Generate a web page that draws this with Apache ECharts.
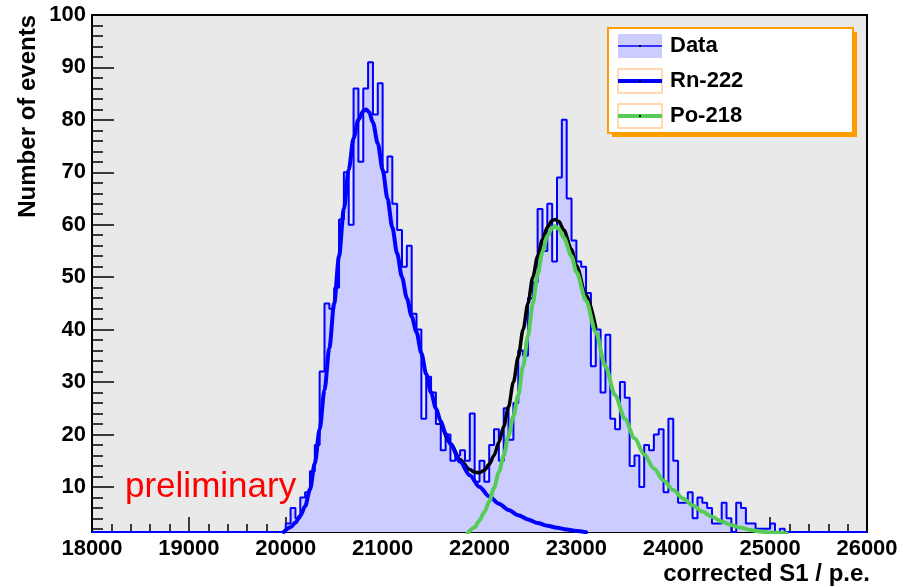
<!DOCTYPE html>
<html><head><meta charset="utf-8">
<script src="https://cdn.jsdelivr.net/npm/echarts@6/dist/echarts.min.js"></script>
<style>html,body{margin:0;padding:0;background:#fff}#c{width:916px;height:587px}</style>
</head><body><div id="c"></div>
<script>
// ---- data ----
const xRange = [18000, 26000];
const xTickStep = 1000;
const yTicksMajor = [10, 20, 30, 40, 50, 60, 70, 80, 90, 100];
const yTicksMinor = [2, 4, 6, 8, 12, 14, 16, 18, 22, 24, 26, 28, 32, 34, 36, 38, 42, 44, 46, 48, 52, 54, 56, 58, 62, 64, 66, 68, 72, 74, 76, 78, 82, 84, 86, 88, 92, 94, 96, 98];
const yRange = [1.4, 100];
const binWidth = 50;
const firstBin = 20000;
// counts per 50 p.e. bin starting at 20000
const counts = [
  3, 6, 4, 8, 9, 13, 18, 32, 45, 44,
  48, 61, 70, 60, 86, 72, 86, 91, 81, 87,
  70, 73, 64, 59, 52, 56, 43, 40, 23, 31,
  28, 22, 17, 20, 15, 16, 17, 15, 24, 11,
  15, 11, 18, 21, 15, 25, 19, 26, 36, 35,
  46, 49, 63, 55, 64, 53, 69, 80, 65, 57,
  53, 52, 47, 33, 40, 28, 39, 23, 21, 30,
  27, 14, 16, 10, 18, 17, 20, 21, 9, 23,
  15, 7, 7, 9, 4, 8, 7, 6, 3, 3,
  7, 4, 1, 7, 6, 3, 3, 2, 2, 2,
  3, 0, 2, 0
];
// fitted curves as [S1, events]
const rnFit = [
  [19980, 1.4], [20050, 2.3], [20100, 3.2], [20150, 4.5], [20200, 6.3], [20250, 9.5],
  [20300, 14.5], [20350, 21], [20400, 28.5], [20450, 36.5], [20500, 45], [20550, 54],
  [20600, 63], [20650, 70.5], [20700, 76.5], [20750, 80], [20800, 81.7], [20830, 82],
  [20860, 81.5], [20900, 79.5], [20950, 75.5], [21000, 70.5], [21050, 65], [21100, 59.5],
  [21150, 54.5], [21200, 50], [21250, 46], [21300, 42.5], [21350, 39.5], [21400, 35.5],
  [21450, 31.5], [21500, 28], [21550, 25], [21600, 22.5], [21650, 20.2], [21700, 18.2],
  [21800, 14.8], [21900, 12.2], [22000, 10], [22100, 8.2], [22200, 6.8], [22300, 5.6],
  [22400, 4.6], [22500, 3.8], [22600, 3.1], [22700, 2.6], [22800, 2.2], [22900, 1.9],
  [23000, 1.6], [23100, 1.35]
];
const poFit = [
  [21880, 1.2], [21950, 2.3], [22000, 3.6], [22050, 5.2], [22100, 7.2], [22150, 9.8],
  [22200, 12.8], [22250, 16], [22300, 19.8], [22350, 23.5], [22400, 27.5], [22450, 33],
  [22500, 38.8], [22550, 45], [22600, 50.5], [22650, 54.8], [22700, 57.8], [22750, 59.4],
  [22780, 59.7], [22820, 59.2], [22870, 57.5], [22950, 54], [23000, 51], [23100, 45.5],
  [23200, 39.5], [23300, 33], [23400, 27.5], [23500, 23], [23600, 19.3], [23700, 16.2],
  [23800, 13.5], [23900, 11.2], [24000, 9.4], [24100, 7.8], [24200, 6.5], [24300, 5.3],
  [24400, 4.3], [24500, 3.4], [24600, 2.7], [24700, 2.2], [24800, 1.8], [24900, 1.5],
  [25000, 1.3], [25170, 1.1]
];
const sumFit = [
  [21600, 22.5], [21700, 18.3], [21800, 15.2], [21900, 13.3], [21950, 12.8], [22000, 12.7],
  [22050, 13.2], [22100, 14.3], [22150, 16], [22200, 18.5], [22250, 21.5], [22300, 25.3],
  [22350, 30], [22400, 34.8], [22450, 40], [22500, 45], [22550, 50], [22600, 54],
  [22650, 57.2], [22700, 59.5], [22750, 60.8], [22780, 61], [22820, 60.6], [22870, 59],
  [22950, 55.3], [23000, 52.2], [23100, 46.6], [23200, 40.4]
];
const legendNames = ['Data', 'Rn-222', 'Po-218'];

// ---- build histogram step outline from counts ----
function histPoints() {
  const pts = [];
  const n = Math.round((xRange[1] - xRange[0]) / binWidth);
  for (let k = 0; k < n; k++) {
    const lo = xRange[0] + k * binWidth;
    const idx = Math.round((lo - firstBin) / binWidth);
    const c = (idx >= 0 && idx < counts.length) ? counts[idx] : 0;
    const v = Math.max(c, yRange[0]);
    pts.push([lo, v], [lo + binWidth, v]);
  }
  return pts;
}

const FONT = '"Liberation Sans", Arial, sans-serif';
const chart = echarts.init(document.getElementById('c'), null, {renderer: 'canvas'});
const lx = 618, lw = 44;
const legendRows = [46, 81, 116];
const fitLine = (name, data, color, width, z) => ({
  name, type: 'line', data, smooth: 0.3, smoothMonotone: 'x', symbol: 'none', showSymbol: false,
  lineStyle: {color, width, cap: 'round', join: 'round'}, z
});

chart.setOption({
  animation: false,
  backgroundColor: '#ffffff',
  grid: {left: 92, right: 49, top: 15, bottom: 55, show: true, backgroundColor: '#e9e9e9', borderColor: '#000', borderWidth: 2},
  xAxis: {
    type: 'value', min: xRange[0], max: xRange[1], interval: xTickStep,
    axisLine: {show: true, onZero: false, lineStyle: {color: '#000', width: 2}},
    axisTick: {show: true, inside: true, length: 15, lineStyle: {color: '#000', width: 1.5}},
    minorTick: {show: true, splitNumber: 5, length: 8, lineStyle: {color: '#000', width: 1.5}},
    splitLine: {show: false},
    axisLabel: {formatter: v => String(v), color: '#000', fontSize: 22, fontWeight: 'bold', fontFamily: FONT, margin: 6}
  },
  yAxis: [{
    type: 'value', min: yRange[0], max: yRange[1],
    axisLine: {show: true, onZero: false, lineStyle: {color: '#000', width: 2}},
    axisTick: {show: true, inside: true, length: 22, customValues: yTicksMajor, lineStyle: {color: '#000', width: 1.5}},
    splitLine: {show: false},
    axisLabel: {customValues: yTicksMajor, color: '#000', fontSize: 22, fontWeight: 'bold', fontFamily: FONT, margin: 6}
  }, {
    type: 'value', min: yRange[0], max: yRange[1], position: 'left',
    axisLine: {show: false},
    axisTick: {show: true, inside: true, length: 11, customValues: yTicksMinor, lineStyle: {color: '#000', width: 1.5}},
    splitLine: {show: false},
    axisLabel: {show: false}
  }],
  series: [
    {name: legendNames[0], type: 'line', data: histPoints(), showSymbol: false, symbol: 'none',
     lineStyle: {color: '#0000ff', width: 2}, areaStyle: {color: '#ccccff', opacity: 1, origin: 'start'}, z: 2},
    fitLine('sum', sumFit, '#000000', 3.5, 3),
    fitLine(legendNames[1], rnFit, '#0000ff', 4, 4),
    fitLine(legendNames[2], poFit, '#55cc55', 4, 5)
  ],
  graphic: [
    {type: 'text', x: 28.5, y: 15, rotation: Math.PI / 2, z: 10,
     style: {text: 'Number of events', font: 'bold 24px ' + FONT, fill: '#000', align: 'right', verticalAlign: 'middle'}},
    {type: 'text', x: 870, y: 574, z: 10,
     style: {text: 'corrected S1 / p.e.', font: 'bold 24px ' + FONT, fill: '#000', align: 'right', verticalAlign: 'middle'}},
    {type: 'text', x: 125, y: 487, z: 10,
     style: {text: 'preliminary', font: '35px ' + FONT, fill: '#ff0000', align: 'left', verticalAlign: 'middle'}},
    {type: 'rect', shape: {x: 612, y: 32, width: 245, height: 105}, style: {fill: '#ff9c00'}, z: 20},
    {type: 'rect', shape: {x: 608, y: 28, width: 245, height: 105}, style: {fill: '#fff', stroke: '#ff9c00', lineWidth: 2}, z: 21},
    {type: 'rect', shape: {x: lx, y: legendRows[0] - 12, width: lw, height: 24}, style: {fill: '#ccccff'}, z: 22},
    {type: 'line', shape: {x1: lx, y1: legendRows[0], x2: lx + lw, y2: legendRows[0]}, style: {stroke: '#0000ff', lineWidth: 1.5}, z: 23},
    {type: 'rect', shape: {x: lx, y: legendRows[1] - 12, width: lw, height: 24}, style: {fill: '#fff', stroke: '#ffcc99', lineWidth: 1.5}, z: 22},
    {type: 'line', shape: {x1: lx, y1: legendRows[1], x2: lx + lw, y2: legendRows[1]}, style: {stroke: '#0000ff', lineWidth: 4}, z: 23},
    {type: 'rect', shape: {x: lx, y: legendRows[2] - 12, width: lw, height: 24}, style: {fill: '#fff', stroke: '#ffcc99', lineWidth: 1.5}, z: 22},
    {type: 'line', shape: {x1: lx, y1: legendRows[2], x2: lx + lw, y2: legendRows[2]}, style: {stroke: '#55cc55', lineWidth: 4}, z: 23},
    {type: 'rect', shape: {x: lx + lw / 2 - 1, y: legendRows[0] - 1, width: 2, height: 2}, style: {fill: '#000'}, z: 24},
    {type: 'rect', shape: {x: lx + lw / 2 - 1, y: legendRows[1] - 1, width: 2, height: 2}, style: {fill: '#000'}, z: 24},
    {type: 'rect', shape: {x: lx + lw / 2 - 1, y: legendRows[2] - 1, width: 2, height: 2}, style: {fill: '#000'}, z: 24},
    {type: 'text', x: 670, y: legendRows[0], z: 24, style: {text: legendNames[0], font: 'bold 22px ' + FONT, fill: '#000', verticalAlign: 'middle'}},
    {type: 'text', x: 670, y: legendRows[1], z: 24, style: {text: legendNames[1], font: 'bold 22px ' + FONT, fill: '#000', verticalAlign: 'middle'}},
    {type: 'text', x: 670, y: legendRows[2], z: 24, style: {text: legendNames[2], font: 'bold 22px ' + FONT, fill: '#000', verticalAlign: 'middle'}}
  ]
});
</script></body></html>
